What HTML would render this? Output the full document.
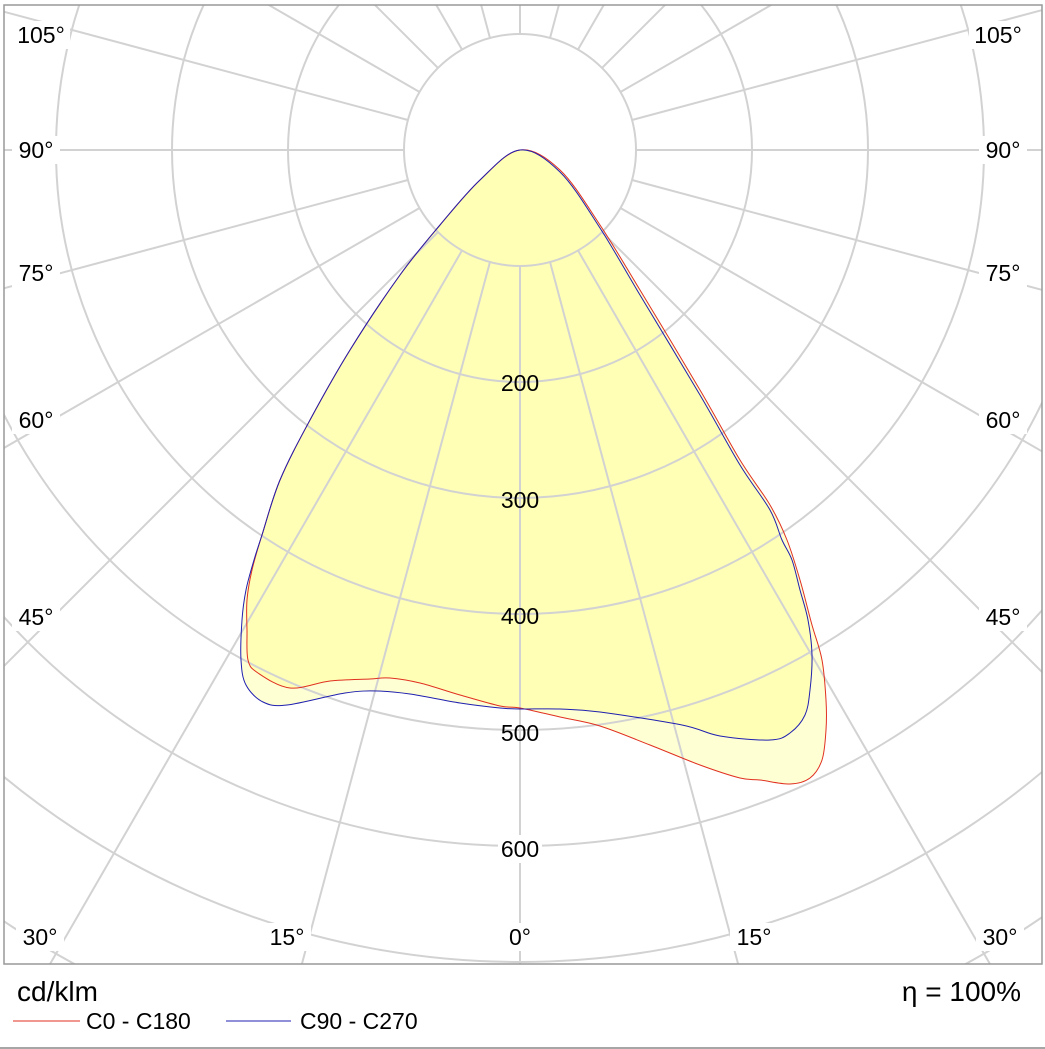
<!DOCTYPE html>
<html><head><style>
html,body{margin:0;padding:0;background:#fff;width:1045px;height:1049px;overflow:hidden}
svg{display:block;position:absolute;left:0;top:0}
</style></head><body>
<svg width="1045" height="1049" viewBox="0 0 1045 1049" xmlns="http://www.w3.org/2000/svg" font-family="Liberation Sans, Arial, sans-serif">
<defs><clipPath id="c"><rect x="4" y="5" width="1038" height="959"/></clipPath></defs>
<g clip-path="url(#c)">
<path id="fr" fill="#ffff70" fill-opacity="0.3"/>
<path id="fb" fill="#ffff70" fill-opacity="0.3"/>
<g stroke="#d2d2d2" stroke-width="2" fill="none">
<circle cx="520" cy="150" r="116"/><circle cx="520" cy="150" r="232"/><circle cx="520" cy="150" r="348"/><circle cx="520" cy="150" r="464"/><circle cx="520" cy="150" r="580"/><circle cx="520" cy="150" r="696"/><circle cx="520" cy="150" r="812"/><circle cx="520" cy="150" r="928"/><circle cx="520" cy="150" r="1044"/>
<g id="sp"></g></g>
<path id="lr" fill="none" stroke="#e03020" stroke-width="1"/>
<path id="lb" fill="none" stroke="#2020b0" stroke-width="1"/>
<g fill="#fff">
<rect x="12" y="21" width="58" height="28"/><rect x="12" y="136" width="48" height="28"/><rect x="12" y="259" width="48" height="28"/><rect x="12" y="406" width="48" height="28"/><rect x="12" y="603" width="48" height="28"/><rect x="16" y="923" width="48" height="28"/><rect x="263" y="923" width="48" height="28"/><rect x="502" y="923" width="36" height="28"/><rect x="730" y="923" width="48" height="28"/><rect x="976" y="923" width="48" height="28"/>
<rect x="969" y="21" width="58" height="28"/><rect x="979" y="136" width="48" height="28"/><rect x="979" y="259" width="48" height="28"/><rect x="979" y="406" width="48" height="28"/><rect x="979" y="603" width="48" height="28"/>
<rect x="498" y="835" width="44" height="28"/>
</g>
<g font-size="23" fill="#000">
<g text-anchor="middle">
<text x="520" y="391">200</text><text x="520" y="508">300</text><text x="520" y="624">400</text><text x="520" y="741">500</text><text x="520" y="857">600</text>
<text x="41" y="43">105°</text><text x="36" y="158">90°</text><text x="36" y="281">75°</text><text x="36" y="428">60°</text><text x="36" y="625">45°</text><text x="40" y="945">30°</text><text x="287" y="945">15°</text><text x="520" y="945">0°</text><text x="754" y="945">15°</text><text x="1000" y="945">30°</text>
<text x="998" y="43">105°</text><text x="1003" y="158">90°</text><text x="1003" y="281">75°</text><text x="1003" y="428">60°</text><text x="1003" y="625">45°</text>
</g></g>
</g>
<rect x="4" y="5" width="1038" height="959" fill="none" stroke="#999" stroke-width="1.5"/>
<line x1="0" y1="1048" x2="1045" y2="1048" stroke="#888" stroke-width="1.5"/>
<text x="17" y="1001" font-size="28">cd/klm</text>
<text x="1021" y="1001" font-size="28" text-anchor="end">η = 100%</text>
<line x1="13" y1="1021" x2="80" y2="1021" stroke="#e03020" stroke-width="1"/>
<text x="86" y="1029" font-size="23">C0 - C180</text>
<line x1="226" y1="1021" x2="291" y2="1021" stroke="#2020b0" stroke-width="1"/>
<text x="300" y="1029" font-size="23">C90 - C270</text>
</svg>
<script>
var R=[520,150,560,170,600,225,640,290,700,390,740,460,770,505,787,540,800,580,812,625,822,660,826,700,826,730,822,760,810,778,790,784,760,780,740,778,700,765,650,745,600,726,560,717,520,708,500,706,460,695,420,683,390,678,370,679,330,681,290,688,258,673,248,660,247,630,247,600,252,570,262,535,280,480,310,420,350,350,400,275,440,225,480,180];
var B=[520,150,560,172,600,228,640,295,700,395,740,465,770,510,782,540,792,560,800,590,808,620,812,655,810,690,805,715,790,733,770,740,720,736,682,725,600,712,560,709,520,709,500,708,460,703,410,694,378,691,345,693,287,705,263,702,246,685,241,660,242,620,246,590,254,560,262,535,280,480,310,420,350,350,400,275,440,225,480,180];
function cr(a){var p=[];for(var i=0;i<a.length;i+=2)p.push([a[i],a[i+1]]);var n=p.length,d="M"+p[0][0]+","+p[0][1];
for(var i=0;i<n;i++){var p0=p[(i-1+n)%n],p1=p[i],p2=p[(i+1)%n],p3=p[(i+2)%n];
var c1x=p1[0]+(p2[0]-p0[0])/6,c1y=p1[1]+(p2[1]-p0[1])/6,c2x=p2[0]-(p3[0]-p1[0])/6,c2y=p2[1]-(p3[1]-p1[1])/6;
d+="C"+c1x.toFixed(1)+","+c1y.toFixed(1)+" "+c2x.toFixed(1)+","+c2y.toFixed(1)+" "+p2[0]+","+p2[1];}return d+"Z";}
var dr=cr(R),db=cr(B);
document.getElementById("fr").setAttribute("d",dr);document.getElementById("lr").setAttribute("d",dr);
document.getElementById("fb").setAttribute("d",db);document.getElementById("lb").setAttribute("d",db);
var g=document.getElementById("sp"),s="";
for(var a=-165;a<=180;a+=15){s+='<line x1="520" y1="266" x2="520" y2="1400" transform="rotate('+a+' 520 150)"/>';}
g.innerHTML=s;
</script>
</body></html>
